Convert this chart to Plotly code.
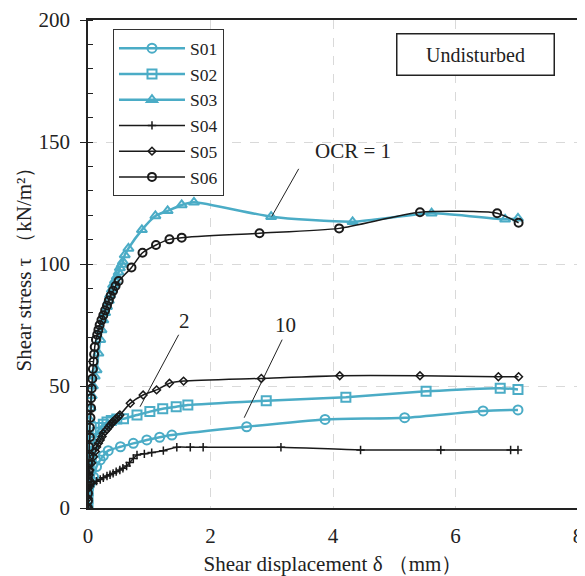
import plotly.graph_objects as go

# ---- data (x: shear displacement mm, y: shear stress kN/m2) ----
s01_x = [0, 0, 0, 0.01, 0.03, 0.06, 0.09, 0.14, 0.2, 0.25, 0.33, 0.53, 0.74, 0.96, 1.17, 1.37, 2.59, 3.87, 5.17, 6.45, 7.02]
s01_y = [0, 3, 6, 8, 9.5, 11, 12.8, 17, 19.7, 21.4, 23.5, 25.1, 26.5, 27.9, 29.0, 29.9, 33.3, 36.3, 37.0, 39.8, 40.2]

s02_x = [0, 0, 0, 0.01, 0.02, 0.03, 0.05, 0.08, 0.11, 0.15, 0.2, 0.25, 0.31, 0.38, 0.47, 0.58, 0.8, 1.01, 1.22, 1.44, 1.63, 2.91, 4.21, 5.52, 6.73, 7.02]
s02_y = [0, 4, 8, 12, 16, 20, 23, 26, 28.5, 31, 33.0, 34.3, 35.2, 35.9, 36.5, 36.6, 38.1, 39.5, 40.7, 41.5, 42.2, 44.0, 45.4, 47.8, 49.1, 48.6]

s03_x = [0, 0, 0, 0.01, 0.01, 0.02, 0.03, 0.04, 0.06, 0.08, 0.11, 0.14, 0.17, 0.2, 0.22, 0.25, 0.28, 0.31, 0.34, 0.36, 0.39, 0.41, 0.44, 0.47, 0.5, 0.52, 0.55, 0.57, 0.6, 0.66, 0.88, 1.1, 1.3, 1.53, 1.73, 2.99, 4.32, 5.61, 6.81, 7.02]
s03_y = [0, 6, 12, 18, 24, 30, 36, 41, 46, 50, 54, 56.6, 63.4, 69, 73, 77, 80, 82.5, 85, 87.3, 89.5, 91.4, 93.2, 94.8, 96.6, 98.4, 99.8, 101, 103.7, 106.4, 114.0, 119.7, 121.8, 124.2, 125.3, 119.4, 117.3, 120.8, 118.3, 118.7]

s04_x = [0, 0, 0, 0.02, 0.05, 0.09, 0.14, 0.2, 0.25, 0.31, 0.36, 0.41, 0.46, 0.52, 0.57, 0.63, 0.68, 0.74, 0.8, 0.92, 1.04, 1.23, 1.45, 1.67, 1.88, 3.15, 4.45, 5.76, 6.9, 7.02]
s04_y = [0, 4, 8.7, 9.3, 9.8, 10.1, 11.0, 11.7, 12.4, 13.1, 13.6, 14.2, 14.9, 15.6, 16.3, 17.2, 18.6, 20.3, 21.7, 22.2, 22.7, 23.5, 24.9, 24.9, 24.9, 24.9, 23.8, 23.8, 23.8, 23.8]

s05_x = [0, 0, 0, 0.01, 0.02, 0.03, 0.06, 0.09, 0.12, 0.14, 0.17, 0.2, 0.23, 0.25, 0.28, 0.31, 0.34, 0.36, 0.39, 0.41, 0.44, 0.47, 0.5, 0.52, 0.69, 0.9, 1.12, 1.33, 1.56, 2.83, 4.11, 5.42, 6.7, 7.03]
s05_y = [0, 4, 8, 11, 13.5, 15.6, 18.5, 21, 23.2, 25, 26.5, 27.9, 29.3, 30.6, 31.5, 32.3, 33.2, 34, 34.7, 35.4, 36.1, 36.8, 37.5, 38.1, 42.9, 46.3, 48.4, 51.1, 52.0, 53.1, 54.2, 54.2, 53.8, 53.8]

s06_x = [0, 0, 0, 0, 0, 0.01, 0.01, 0.02, 0.02, 0.03, 0.03, 0.04, 0.05, 0.05, 0.06, 0.07, 0.08, 0.09, 0.1, 0.11, 0.13, 0.15, 0.17, 0.19, 0.22, 0.25, 0.28, 0.31, 0.34, 0.37, 0.41, 0.45, 0.5, 0.71, 0.89, 1.11, 1.33, 1.53, 2.8, 4.1, 5.42, 6.68, 7.03]
s06_y = [0, 3, 6, 9, 12, 15, 18, 21, 25, 29, 33, 37, 41, 45, 49, 53, 57, 60, 63, 66, 69, 71, 73, 75, 77, 79, 81, 83, 85, 87, 89, 91, 93, 98.6, 104.6, 107.8, 110.1, 110.8, 112.6, 114.6, 121.2, 120.8, 116.9]

names = ["S01", "S02", "S03", "S04", "S05", "S06"]
x_ticks = [0, 2, 4, 6, 8]
y_ticks = [0, 50, 100, 150, 200]

CYAN = "#4bacc6"
BLACK = "#1a1a1a"
FONT = "Liberation Serif"

series = [
    (s01_x, s01_y, CYAN, 2.5, dict(symbol="circle-open", size=9, line=dict(width=2))),
    (s02_x, s02_y, CYAN, 2.5, dict(symbol="square-open", size=9, line=dict(width=2))),
    (s03_x, s03_y, CYAN, 2.5, dict(symbol="triangle-up-open", size=9, line=dict(width=2))),
    (s04_x, s04_y, BLACK, 1.5, dict(symbol="cross-thin-open", size=6, line=dict(width=1.5))),
    (s05_x, s05_y, BLACK, 1.5, dict(symbol="diamond-open", size=6, line=dict(width=1.5))),
    (s06_x, s06_y, BLACK, 1.5, dict(symbol="circle-open", size=8, line=dict(width=2))),
]

fig = go.Figure()
for name, (xs, ys, col, lw, mk) in zip(names, series):
    mk = dict(mk)
    mk["color"] = col
    fig.add_trace(go.Scatter(
        x=xs, y=ys, name=name, mode="lines+markers",
        line=dict(color=col, width=lw, shape="spline", smoothing=0.6),
        marker=mk,
    ))

# page body has an 8px margin, so the figure is slightly smaller than the window
fig.update_layout(
    width=577, height=568,
    margin=dict(l=80, r=7, t=12, b=68),
    paper_bgcolor="white", plot_bgcolor="white",
    font=dict(family=FONT, size=21, color="#222222"),
    showlegend=True,
    legend=dict(
        x=0.051, y=0.981, xanchor="left", yanchor="top",
        bordercolor="#333333", borderwidth=1, bgcolor="white",
        font=dict(family=FONT, size=17.5, color="#222222"),
        itemwidth=66, tracegroupgap=0, entrywidth=128, entrywidthmode="pixels",
    ),
    xaxis=dict(
        range=[0, 8], tickvals=x_ticks, ticks="", showline=True, linecolor="#222222",
        linewidth=1.5, mirror=True, showgrid=True, gridcolor="#d9d9d9", griddash="dash",
        gridwidth=1, zeroline=False, automargin=False,
        title=dict(text="Shear displacement δ （mm）", font=dict(family=FONT, size=21), standoff=11),
        tickfont=dict(family=FONT, size=21),
        ticklabelstandoff=8,
    ),
    yaxis=dict(
        range=[0, 200], tickvals=y_ticks, ticks="outside", ticklen=6, tickcolor="#222222",
        showline=True, linecolor="#222222", linewidth=1.5, mirror=True, automargin=False,
        showgrid=True, gridcolor="#d9d9d9", griddash="dash", gridwidth=1, zeroline=False,
        minor=dict(dtick=10, ticks="inside", ticklen=5, tickcolor="#222222", showgrid=False),
        title=dict(text="Shear stress τ （kN/m²）", font=dict(family=FONT, size=21), standoff=1),
        tickfont=dict(family=FONT, size=21),
        ticklabelstandoff=6,
    ),
)

# "Undisturbed" box
fig.add_annotation(
    x=0.791, y=0.930, xref="paper", yref="paper", xanchor="center", yanchor="middle",
    text="Undisturbed", showarrow=False,
    font=dict(family=FONT, size=20, color="#222222"),
    bordercolor="#222222", borderwidth=1.5, borderpad=2, bgcolor="white",
    width=152, height=36,
)

# OCR labels with leader lines (data coordinates)
labels = [("OCR = 1", 4.32, 146.4, 3.44, 139.0, 3.0, 119.5),
          ("2", 1.57, 76.5, 1.48, 71.0, 0.85, 41.5),
          ("10", 3.22, 75.0, 3.17, 69.0, 2.55, 37.0)]
for text, tx, ty, x0, y0, x1, y1 in labels:
    fig.add_annotation(x=tx, y=ty, text=text, showarrow=False,
                       font=dict(family=FONT, size=21, color="#222222"))
    fig.add_shape(type="line", x0=x0, y0=y0, x1=x1, y1=y1,
                  line=dict(color="#222222", width=1))

fig.write_html("out.html")
